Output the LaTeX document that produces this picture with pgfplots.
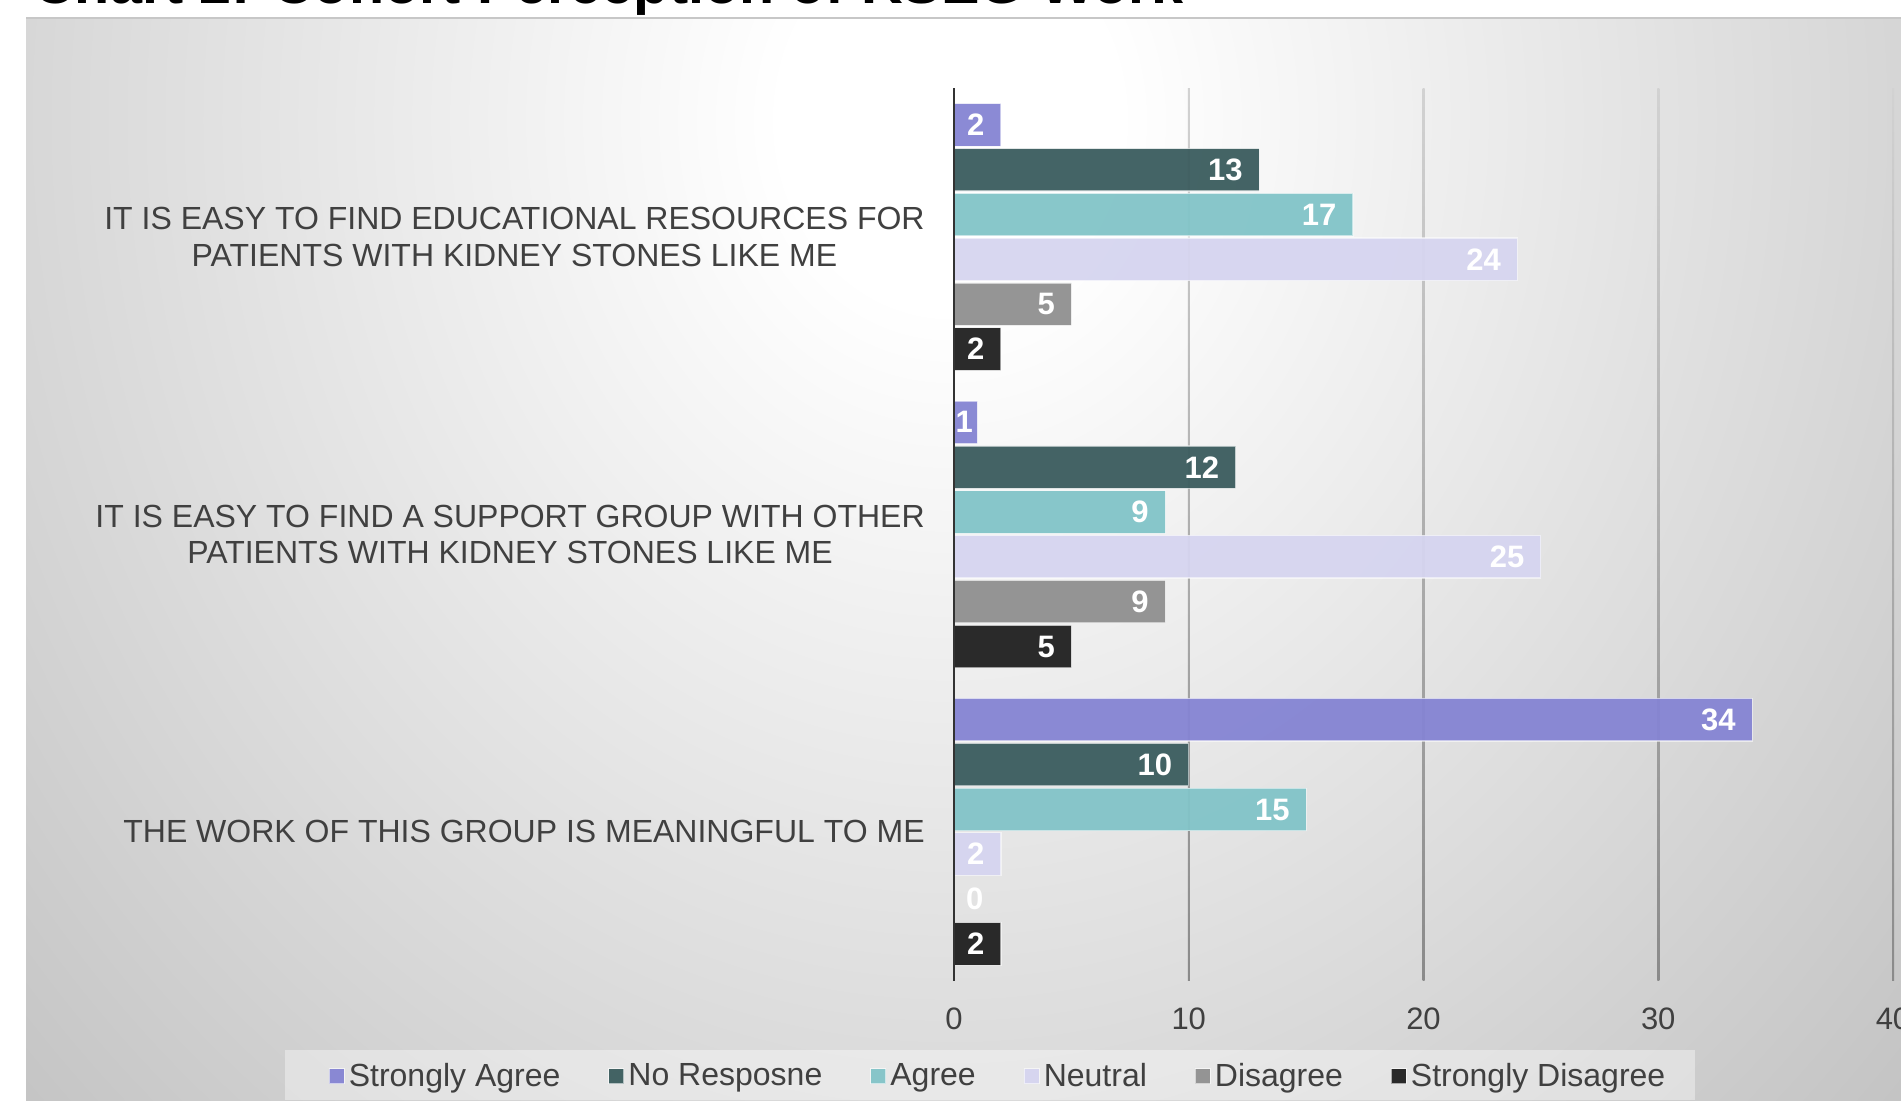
\documentclass[border=0pt]{standalone}
\usepackage{fontspec}
\setmainfont{Liberation Sans}
\usepackage{pgfplots}
\pgfplotsset{compat=1.18}
\definecolor{cSA}{HTML}{8584D3}
\definecolor{cNR}{HTML}{3B5C5E}
\definecolor{cA}{HTML}{82C4C8}
\definecolor{cN}{HTML}{D6D5F0}
\definecolor{cD}{HTML}{909090}
\definecolor{cSD}{HTML}{202020}
\definecolor{bgedge}{HTML}{C4C4C4}
\definecolor{gridtop}{HTML}{D2D2D2}
\definecolor{gridbot}{HTML}{8A8A8A}
\definecolor{txt}{HTML}{404040}
\definecolor{axisc}{HTML}{333333}
\pgfdeclareradialshading{bgshade}{\pgfpoint{0bp}{0bp}}{color(0bp)=(white); color(3bp)=(white); color(23bp)=(bgedge); color(50bp)=(bgedge)}
\begin{document}
\begin{tikzpicture}
\useasboundingbox (0,0) rectangle (950.5pt,550pt);
\clip (0,0) rectangle (950.5pt,550pt);
\begin{scope}
\clip (13pt,0) rectangle (950.5pt,541pt);
\shade[shading=bgshade] (-225pt,-294pt) rectangle (1175pt,1274pt);
\end{scope}
\draw[color=black!22, line width=0.8pt] (13pt,541pt) -- (950.5pt,541pt);
\node[anchor=base west, inner sep=0pt, font=\fontsize{28.8}{34}\selectfont\bfseries] at (16.5pt,548pt) {Chart 2: Cohort Perception of KSEG Work};
\fill[white, opacity=0.38] (142.5pt,0) rectangle (847.5pt,25pt);
\begin{axis}[
  at={(477pt,59.75pt)}, anchor=south west,
  scale only axis, width=469.5pt, height=446.1pt,
  xmin=0, xmax=40, ymin=-0.5, ymax=2.5, y dir=reverse,
  axis line style={draw=none},
  xtick={0,10,20,30,40}, ytick={0,1,2},
  major tick length=0pt,
  yticklabels={{IT IS EASY TO FIND EDUCATIONAL RESOURCES FOR\\PATIENTS WITH KIDNEY STONES LIKE ME},{IT IS EASY TO FIND A SUPPORT GROUP WITH OTHER\\PATIENTS WITH KIDNEY STONES LIKE ME},{THE WORK OF THIS GROUP IS MEANINGFUL TO ME}},
  xticklabel style={anchor=center, inner sep=0pt, yshift=-19pt, font=\fontsize{15.5}{18}\selectfont, text=txt},
  yticklabel style={anchor=east, align=center, inner sep=0pt, xshift=-14.5pt, font=\fontsize{16}{18.2}\selectfont, text=txt},
  /pgf/number format/assume math mode=true,
  clip=false,
  xbar, bar shift=0pt, bar width=0.143,
  point meta=x,
  nodes near coords,
  visualization depends on={x \as \myx},
  every node near coord/.append style={anchor=east, font=\fontsize{15.5}{18}\selectfont\bfseries, text=white, text opacity=1, inner sep=0pt, xshift={(\myx<0.5)*23pt+(\myx>0.5)*(\myx<1.5)*6pt-8pt}},
  legend columns=6,
  legend style={at={(0.048,-0.1075)}, anchor=center, draw=none, fill=none, font=\fontsize{16}{18}\selectfont, text=txt, /tikz/every even column/.append style={column sep=22pt}},
  legend image code/.code={\draw[#1, draw=white, draw opacity=0.6, line width=0.5pt] (0pt,-3.75pt) rectangle (7.5pt,3.75pt);},
  every axis plot/.append style={draw=white, draw opacity=0.55, line width=0.6pt, fill opacity=0.95},
]
\pgfplotsinvokeforeach{10,20,30,40}{
  \shade[top color=gridtop, bottom color=gridbot] ([xshift=-0.5pt]axis cs:#1,-0.5) rectangle ([xshift=0.5pt]axis cs:#1,2.5);
}
\addplot[fill=cSA] coordinates {(2,-0.377) (1,0.623) (34,1.623)};
\addlegendentry{Strongly Agree}
\addplot[fill=cNR] coordinates {(13,-0.226) (12,0.774) (10,1.774)};
\addlegendentry{No Resposne}
\addplot[fill=cA] coordinates {(17,-0.075) (9,0.925) (15,1.925)};
\addlegendentry{Agree}
\addplot[fill=cN] coordinates {(24,0.075) (25,1.075) (2,2.075)};
\addlegendentry{Neutral}
\addplot[fill=cD] coordinates {(5,0.226) (9,1.226) (0,2.226)};
\addlegendentry{Disagree}
\addplot[fill=cSD] coordinates {(2,0.377) (5,1.377) (2,2.377)};
\addlegendentry{Strongly Disagree}
\draw[line width=1.2pt, color=axisc] (axis cs:0,-0.5) -- (axis cs:0,2.5);
\end{axis}
\end{tikzpicture}
\end{document}
